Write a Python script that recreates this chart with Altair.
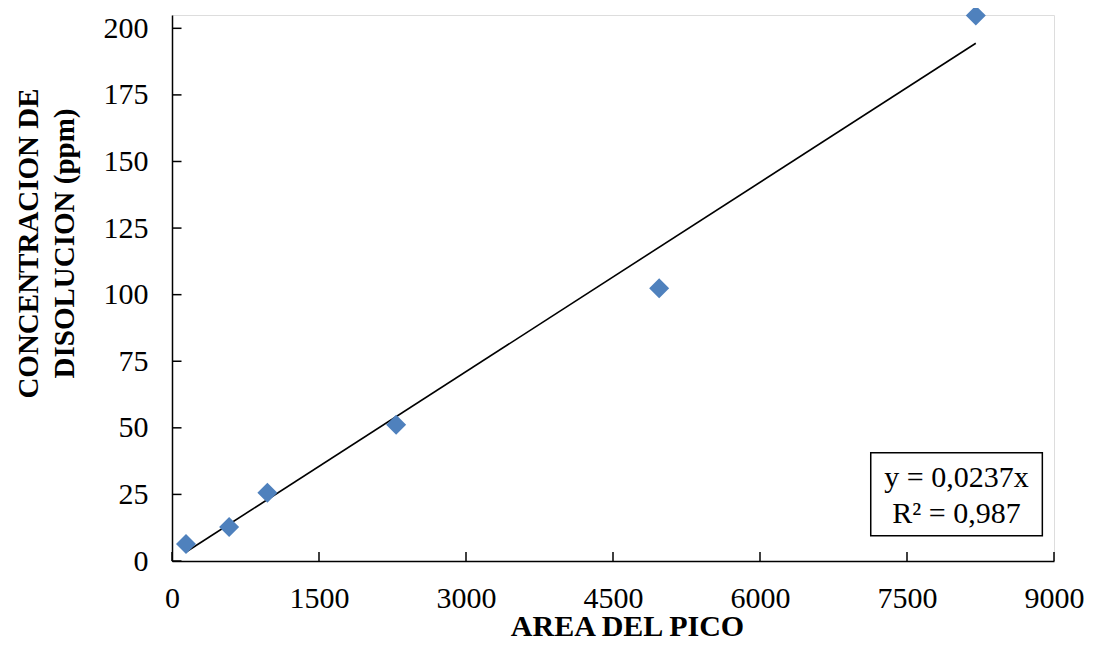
import altair as alt
import pandas as pd

# Data
area = [143, 583, 973, 2287, 4971, 8202]
conc = [6.4, 12.8, 25.6, 51.2, 102.4, 204.8]

slope = 0.0237
trend_x = [min(area), max(area)]
trend_y = [slope * v for v in trend_x]

x_ticks = [0, 1500, 3000, 4500, 6000, 7500, 9000]
y_ticks = [0, 25, 50, 75, 100, 125, 150, 175, 200]

eq_lines = ["y = 0,0237x", "R² = 0,987"]

FONT = "Liberation Serif"
W, H = 882, 546
XMAX, YMAX = 9000, 205

pts = pd.DataFrame({"x": area, "y": conc})
trend = pd.DataFrame({"x": trend_x, "y": trend_y})
xt = pd.DataFrame({"x": x_ticks, "y0": [0] * len(x_ticks), "y1": [3.4] * len(x_ticks)})
yt = pd.DataFrame({"y": y_ticks, "x0": [0] * len(y_ticks), "x1": [97] * len(y_ticks)})
box = pd.DataFrame({"x": [7130], "x2": [8881], "y": [9.5], "y2": [40.6]})
eq = pd.DataFrame({"x": [8005, 8005], "y": [27.6, 14.1], "t": eq_lines})

xs = alt.Scale(domain=[0, XMAX], nice=False, zero=False)
ys = alt.Scale(domain=[0, YMAX], nice=False, zero=False)

x_axis = alt.Axis(
    values=x_ticks, format="d", title="AREA DEL PICO", grid=False, ticks=False, tickSize=0,
    labelFont=FONT, labelFontSize=30, labelColor="black", labelPadding=22,
    domainColor="black", domainWidth=1.5,
    titleFont=FONT, titleFontSize=30, titleFontWeight="bold", titleColor="black",
    titleBaseline="alphabetic", titleX=455, titleY=74, titleAlign="center",
    labelFlush=False, labelOverlap=False,
)
y_axis = alt.Axis(
    values=y_ticks, format="d", title=["CONCENTRACION DE", "DISOLUCION (ppm)"], grid=False,
    ticks=False, tickSize=0,
    labelFont=FONT, labelFontSize=30, labelColor="black", labelPadding=24,
    domainColor="black", domainWidth=1.5,
    titleFont=FONT, titleFontSize=29, titleFontWeight="bold", titleColor="black",
    titleAngle=-90, titleAlign="center", titleBaseline="middle",
    titleX=-144, titleY=228, titleLineHeight=36,
    labelFlush=False, labelOverlap=False,
)

base_pts = alt.Chart(pts).mark_point(
    shape="diamond", filled=True, size=400, color="#4F81BD", opacity=1
).encode(
    x=alt.X("x:Q", scale=xs, axis=x_axis),
    y=alt.Y("y:Q", scale=ys, axis=y_axis),
)

line = alt.Chart(trend).mark_line(color="black", strokeWidth=1.6).encode(
    x=alt.X("x:Q", scale=xs), y=alt.Y("y:Q", scale=ys)
)

xtick = alt.Chart(xt).mark_rule(color="black", strokeWidth=1.5).encode(
    x=alt.X("x:Q", scale=xs), y=alt.Y("y0:Q", scale=ys), y2="y1:Q"
)
ytick = alt.Chart(yt).mark_rule(color="black", strokeWidth=1.5).encode(
    y=alt.Y("y:Q", scale=ys), x=alt.X("x0:Q", scale=xs), x2="x1:Q"
)

rect = alt.Chart(box).mark_rect(fill="white", stroke="black", strokeWidth=1.5).encode(
    x=alt.X("x:Q", scale=xs), x2="x2:Q", y=alt.Y("y:Q", scale=ys), y2="y2:Q"
)
txt = alt.Chart(eq).mark_text(
    font=FONT, fontSize=30, color="black", align="center", baseline="alphabetic"
).encode(
    x=alt.X("x:Q", scale=xs), y=alt.Y("y:Q", scale=ys), text="t:N"
)

chart = alt.layer(xtick, ytick, line, base_pts, rect, txt).properties(
    width=W, height=H,
    autosize=alt.AutoSizeParams(type="none"),
    padding={"left": 164, "top": 7, "right": 31, "bottom": 81},
).configure_view(stroke=None).configure(background="white")

chart.save("out.html", embed_options={"renderer": "svg", "actions": False})
